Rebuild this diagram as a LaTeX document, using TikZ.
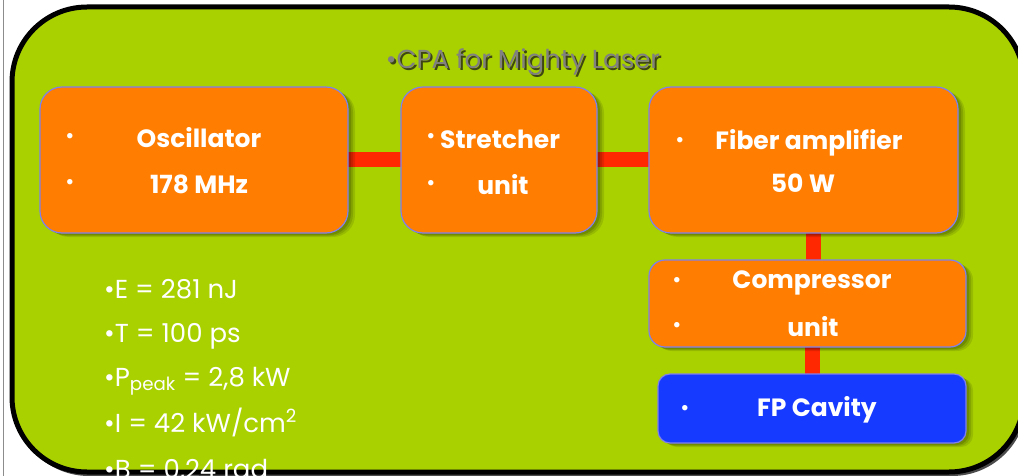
\documentclass[tikz,border=0pt]{standalone}
\usepackage{fontspec}
\usepackage{graphicx}
\setmainfont{Poppins}
\usetikzlibrary{shadows}

\definecolor{panelgreen}{RGB}{169,209,0}
\definecolor{boxorange}{RGB}{255,125,0}
\definecolor{boxblue}{RGB}{22,58,255}
\definecolor{boxedge}{RGB}{128,128,236}
\definecolor{barred}{RGB}{255,40,0}
\definecolor{titlegray}{RGB}{128,128,128}
\definecolor{titleshade}{RGB}{62,70,20}

\pgfdeclarelayer{panel}
\pgfdeclarelayer{links}
\pgfsetlayers{panel,links,main}

\newcommand{\shadedtitle}[1]{%
  \makebox[0pt][l]{\kern2pt\raisebox{-2.5pt}{\color{titleshade}#1}}#1}

\tikzset{
  panelbox/.style={draw=black, line width=5pt, fill=panelgreen, rounded corners=75pt},
  softshadow/.style={
    drop shadow={shadow xshift=7pt, shadow yshift=-4pt, opacity=0.10, fill=black},
    drop shadow={shadow xshift=5pt, shadow yshift=-3pt, opacity=0.12, fill=black},
    drop shadow={shadow xshift=3pt, shadow yshift=-2pt, opacity=0.15, fill=black}},
  unitbox/.style={draw=boxedge, line width=1.2pt, fill=boxorange, rounded corners=22pt,
    inner sep=0pt, outer sep=0pt, softshadow},
  cavitybox/.style={unitbox, fill=boxblue, rounded corners=12pt},
  link/.style={draw=barred, line width=15pt},
  boxtext/.style={text=white, font=\fontsize{25}{29}\selectfont\bfseries, inner sep=0pt},
  dot/.style={text=white, font=\fontsize{22}{26}\selectfont, inner sep=0pt},
  param/.style={text=white, font=\fontsize{26}{30}\selectfont, inner sep=0pt, anchor=base west},
}

\begin{document}
\begin{tikzpicture}[x=1pt, y=-1pt]
\useasboundingbox (0,0) rectangle (1018,476);

% page rule on the left
\draw[black!45, line width=0.8pt] (3,0) -- (3,476);

% green panel
\begin{pgfonlayer}{panel}
  \path[fill=black!70, rounded corners=75pt] (14,10) rectangle (1027,476);
  \path[panelbox] (12,7) rectangle (1024,472);
\end{pgfonlayer}

% title
\node[text=titlegray, font=\fontsize{26}{30}\selectfont, inner sep=0pt] (title) at (523,63)
  {\shadedtitle{\textbullet CPA for Mighty Laser}};

% units
\node[unitbox, minimum width=308pt, minimum height=146pt] (osc) at (194,160) {};
\node[unitbox, minimum width=196pt, minimum height=146pt] (str) at (499,160) {};
\node[unitbox, minimum width=309pt, minimum height=146pt] (fib) at (803.5,160) {};
\node[unitbox, rounded corners=16pt, minimum width=317pt, minimum height=87pt] (comp) at (807.5,303.5) {};
\node[cavitybox, minimum width=308pt, minimum height=69pt] (fp) at (812,408.5) {};

% links between units
\coordinate (axisA) at (813,0);
\coordinate (axisB) at (812,0);
\begin{pgfonlayer}{links}
  \draw[link] (osc.east) -- (str.west);
  \draw[link] (str.east) -- (fib.west);
  \draw[link] (fib.south -| axisA) -- (comp.north -| axisA);
  \draw[link] (comp.south -| axisB) -- (fp.north -| axisB);
\end{pgfonlayer}

% oscillator
\node[dot] (oscd1) at (70,138) {\textbullet};
\node[dot] (oscd2) at (70,184) {\textbullet};
\node[boxtext] (osct1) at (199,138) {Oscillator};
\node[boxtext] (osct2) at (199,184) {178 MHz};

% stretcher
\node[dot] (strd1) at (431,138) {\textbullet};
\node[dot] (strd2) at (431,185) {\textbullet};
\node[boxtext, anchor=west] (strt1) at (440,139) {Stretcher};
\node[boxtext] (strt2) at (503,185) {unit};

% fiber amplifier
\node[dot] (fibd1) at (680,142) {\textbullet};
\node[boxtext] (fibt1) at (809,143) {Fiber amplifier};
\node[boxtext] (fibt2) at (803,183) {50 W};

% compressor
\node[dot] (compd1) at (677,282) {\textbullet};
\node[dot] (compd2) at (677,327) {\textbullet};
\node[boxtext] (compt1) at (812,283) {Compressor};
\node[boxtext] (compt2) at (813,327) {unit};

% cavity
\node[dot] (fpd1) at (685,410) {\textbullet};
\node[boxtext] (fpt1) at (817,410) {FP Cavity};

% beam parameters
\node[param] (pE) at (104,298) {\textbullet E = 281 nJ};
\node[param] (pT) at (104,342) {\textbullet T = 100 ps};
\node[param] (pP) at (104,386) {\textbullet P\textsubscript{peak} = 2,8 kW};
\node[param] (pI) at (104,432) {\textbullet I = 42 kW/cm\textsuperscript{2}};
\node[param] (pB) at (104,478) {\textbullet B = 0,24 rad};
\end{tikzpicture}
\end{document}
